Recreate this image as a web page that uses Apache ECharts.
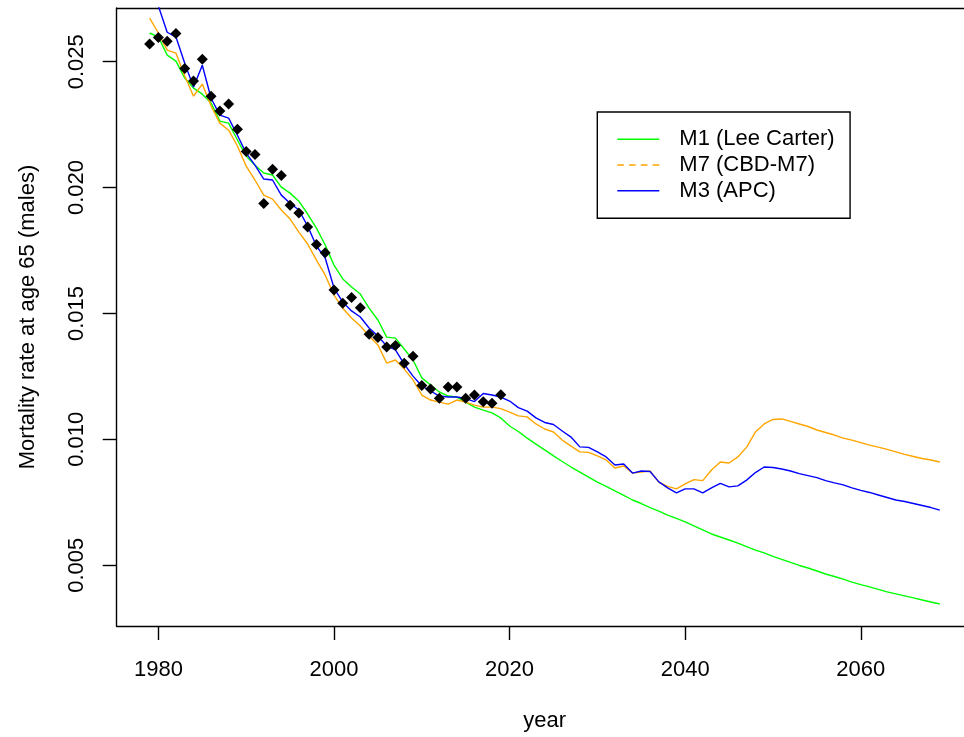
<!DOCTYPE html>
<html><head><meta charset="utf-8">
<script src="https://cdn.jsdelivr.net/npm/echarts@6/dist/echarts.min.js"></script>
<style>html,body{margin:0;padding:0;background:#fff;overflow:hidden}#c{width:964px;height:737px}</style>
</head><body><div id="c"></div>
<script>
const fitYears = [1979,1980,1981,1982,1983,1984,1985,1986,1987,1988,
  1989,1990,1991,1992,1993,1994,1995,1996,1997,1998,
  1999,2000,2001,2002,2003,2004,2005,2006,2007,2008,
  2009,2010,2011,2012,2013,2014,2015,2016,2017,2018,
  2019,2020,2021,2022,2023,2024,2025,2026,2027,2028,
  2029,2030,2031,2032,2033,2034,2035,2036,2037,2038,
  2039,2040,2041,2042,2043,2044,2045,2046,2047,2048,
  2049,2050,2051,2052,2053,2054,2055,2056,2057,2058,
  2059,2060,2061,2062,2063,2064,2065,2066,2067,2068,
  2069];
const obsYears = [1979,1980,1981,1982,1983,1984,1985,1986,1987,1988,
  1989,1990,1991,1992,1993,1994,1995,1996,1997,1998,
  1999,2000,2001,2002,2003,2004,2005,2006,2007,2008,
  2009,2010,2011,2012,2013,2014,2015,2016,2017,2018,2019];
const observed = [0.02570,0.02596,0.02581,0.02612,0.02473,0.02423,0.02510,0.02363,0.02304,0.02332,
  0.02232,0.02143,0.02131,0.01937,0.02073,0.02048,0.01930,0.01899,0.01843,0.01774,
  0.01741,0.01593,0.01541,0.01563,0.01523,0.01417,0.01404,0.01367,0.01373,0.01302,
  0.01330,0.01214,0.01200,0.01163,0.01208,0.01208,0.01163,0.01176,0.01149,0.01143,0.01177];
const m1 = [0.02614,0.02598,0.02526,0.02502,0.02435,0.02395,0.02371,0.02336,0.02264,0.02256,
  0.02189,0.02125,0.02089,0.02058,0.02050,0.02002,0.01978,0.01946,0.01895,0.01839,
  0.01772,0.01692,0.01637,0.01605,0.01577,0.01521,0.01474,0.01406,0.01402,0.01359,
  0.01315,0.01244,0.01216,0.01188,0.01172,0.01168,0.01148,0.01128,0.01116,0.01105,
  0.01085,0.01053,0.01031,0.01005,0.00981,0.00958,0.00934,0.00912,0.00890,0.00870,
  0.00850,0.00830,0.00813,0.00795,0.00777,0.00759,0.00745,0.00729,0.00715,0.00699,
  0.00686,0.00672,0.00656,0.00640,0.00624,0.00612,0.00600,0.00588,0.00574,0.00560,
  0.00549,0.00535,0.00523,0.00511,0.00499,0.00489,0.00477,0.00465,0.00455,0.00445,
  0.00433,0.00423,0.00414,0.00404,0.00394,0.00386,0.00378,0.00370,0.00362,0.00354,
  0.00346];
const m7 = [0.02673,0.02614,0.02546,0.02534,0.02443,0.02363,0.02411,0.02324,0.02256,0.02228,
  0.02165,0.02085,0.02030,0.01970,0.01954,0.01911,0.01875,0.01823,0.01776,0.01712,
  0.01652,0.01573,0.01521,0.01482,0.01450,0.01410,0.01375,0.01303,0.01315,0.01279,
  0.01236,0.01176,0.01156,0.01148,0.01140,0.01156,0.01148,0.01136,0.01128,0.01128,
  0.01122,0.01108,0.01093,0.01089,0.01061,0.01041,0.01029,0.00997,0.00973,0.00950,
  0.00948,0.00934,0.00918,0.00886,0.00894,0.00866,0.00870,0.00874,0.00830,0.00813,
  0.00803,0.00823,0.00840,0.00836,0.00878,0.00910,0.00906,0.00930,0.00969,0.01029,
  0.01061,0.01079,0.01081,0.01071,0.01061,0.01051,0.01037,0.01027,0.01017,0.01005,
  0.00997,0.00987,0.00977,0.00969,0.00960,0.00950,0.00940,0.00932,0.00924,0.00918,
  0.00910];
const m3 = [0.02850,0.02721,0.02617,0.02598,0.02494,0.02399,0.02486,0.02355,0.02288,0.02276,
  0.02208,0.02137,0.02089,0.02034,0.02030,0.01970,0.01938,0.01911,0.01847,0.01768,
  0.01720,0.01601,0.01545,0.01510,0.01486,0.01442,0.01410,0.01371,0.01355,0.01299,
  0.01251,0.01212,0.01192,0.01172,0.01168,0.01168,0.01162,0.01150,0.01182,0.01176,
  0.01168,0.01152,0.01126,0.01112,0.01085,0.01067,0.01059,0.01033,0.01009,0.00970,
  0.00968,0.00950,0.00930,0.00898,0.00902,0.00866,0.00874,0.00872,0.00831,0.00807,
  0.00787,0.00803,0.00803,0.00787,0.00807,0.00825,0.00811,0.00815,0.00838,0.00868,
  0.00890,0.00888,0.00882,0.00874,0.00864,0.00856,0.00848,0.00836,0.00827,0.00819,
  0.00807,0.00797,0.00789,0.00779,0.00769,0.00759,0.00753,0.00745,0.00737,0.00729,
  0.00719];
const xTicks = [1980, 2000, 2020, 2040, 2060];
const yTicks = [0.005, 0.010, 0.015, 0.020, 0.025];
const seriesNames = ['M1 (Lee Carter)', 'M7 (CBD-M7)', 'M3 (APC)'];
const seriesColors = ['#00ff00', '#ffa500', '#0000ff'];
const xTitle = 'year';
const yTitle = 'Mortality rate at age 65 (males)';

const zip = (xs, ys) => xs.map((x, i) => [x, ys[i]]);
const FONT = '"Liberation Sans", Arial, sans-serif';
const TXT = {fontFamily: FONT, fontSize: 22, color: '#000'};
const AXLINE = {show: true, onZero: false, lineStyle: {color: '#000', width: 1.4}};
const dashIcon = 'path://M0,0h6.5v1h-6.5z M11.5,0h6.5v1h-6.5z M23,0h6.5v1h-6.5z M34.5,0h6.5v1h-6.5z';

const chart = echarts.init(document.getElementById('c'), null, {renderer: 'canvas'});
const fits = [m1, m7, m3];
chart.setOption({
  animation: false,
  backgroundColor: '#fff',
  grid: {left: 116.7, top: 8, width: 856, height: 618, show: false, outerBoundsMode: 'none'},
  xAxis: [{
    type: 'value', min: 1975.25, max: 2072.75, position: 'bottom',
    name: xTitle, nameLocation: 'middle', nameGap: 84, nameTextStyle: TXT,
    axisLine: AXLINE, splitLine: {show: false},
    axisTick: {show: true, length: 14, customValues: xTicks, lineStyle: {color: '#000', width: 1.4}},
    axisLabel: Object.assign({customValues: xTicks, margin: 33, formatter: v => String(v)}, TXT)
  }, {
    type: 'value', min: 1975.25, max: 2072.75, position: 'top',
    axisLine: AXLINE, splitLine: {show: false}, axisTick: {show: false}, axisLabel: {show: false}
  }],
  yAxis: {
    type: 'value', min: 0.002585, max: 0.027133,
    name: yTitle, nameLocation: 'middle', nameGap: 78, nameTextStyle: TXT,
    axisLine: AXLINE, splitLine: {show: false},
    axisTick: {show: true, length: 14, customValues: yTicks, lineStyle: {color: '#000', width: 1.4}},
    axisLabel: Object.assign({customValues: yTicks, margin: 29, rotate: 90, formatter: v => v.toFixed(3)}, TXT)
  },
  legend: {
    orient: 'vertical', left: 597.3, top: 112,
    padding: [16.3, 15.5, 16.6, 20], itemGap: 3.7,
    itemWidth: 42, itemHeight: 1.5, symbolKeepAspect: false,
    borderColor: '#000', borderWidth: 1.4, backgroundColor: '#fff',
    textStyle: Object.assign({padding: [0, 0, 0, 15], lineHeight: 22}, TXT),
    data: [
      {name: seriesNames[0], icon: 'rect'},
      {name: seriesNames[1], icon: dashIcon},
      {name: seriesNames[2], icon: 'rect'}
    ]
  },
  series: fits.map((d, i) => ({
    name: seriesNames[i], type: 'line', data: zip(fitYears, d),
    symbol: 'none', clip: true, z: 2,
    lineStyle: {color: seriesColors[i], width: 1.4}, itemStyle: {color: seriesColors[i]}
  })).concat([{
    name: 'observed', type: 'scatter', data: zip(obsYears, observed),
    symbol: 'diamond', symbolSize: 11, z: 3,
    itemStyle: {color: '#000', opacity: 1}
  }])
});
</script></body></html>
